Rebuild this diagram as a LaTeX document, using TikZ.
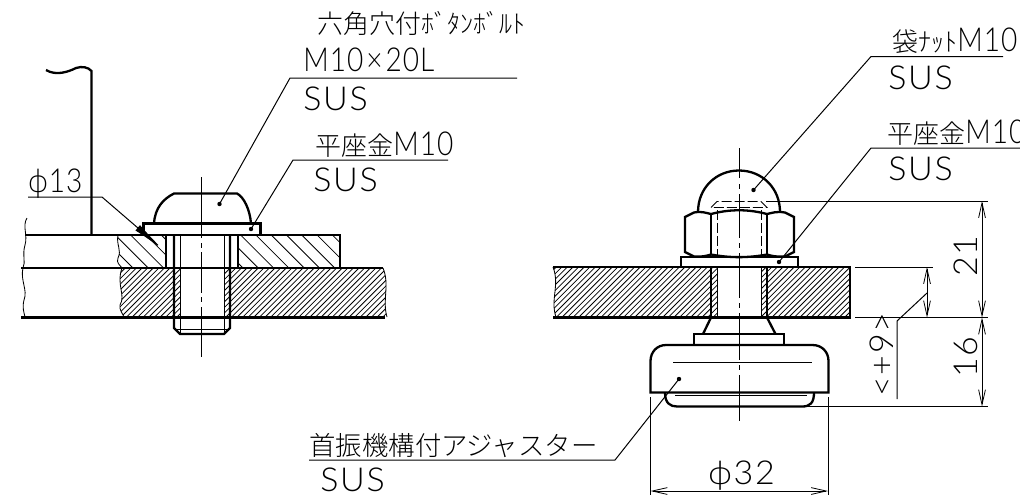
\documentclass[tikz,border=0pt]{standalone}
\usepackage{fontspec}
\usetikzlibrary{arrows.meta}
\setmainfont{Liberation Sans}
\IfFontExistsTF{Noto Sans CJK JP Light}{\newfontfamily\cjk{Noto Sans CJK JP Light}}{\newfontfamily\cjk{Noto Sans CJK JP}}
\newcommand{\pickfont}[3]{\IfFontExistsTF{Lato Light}{\newfontfamily#1[FakeStretch=#2,LetterSpace=#3]{Lato Light}}{\IfFontExistsTF{Open Sans Light}{\newfontfamily#1[FakeStretch=#2,LetterSpace=#3]{Open Sans Light}}{\newfontfamily#1[FakeStretch=#2,LetterSpace=#3]{Liberation Sans}}}}
\pickfont{\lat}{1.03}{5}
\pickfont{\latd}{0.85}{3}
\tikzset{
 x=0.5pt,y=-0.5pt,
 thk/.style={line width=1.15pt},
 thn/.style={line width=0.42pt},
 lead/.style={line width=0.5pt},
 hatchA/.style={line width=0.4pt},
 dotm/.style={fill=black,circle,inner sep=0pt,minimum size=2.2pt},
 txt/.style={inner sep=0pt,anchor=base west,font=\lat\fontsize{16.5}{16.5}\selectfont},
 dtxt/.style={inner sep=0pt,anchor=base west,font=\latd\fontsize{16.5}{16.5}\selectfont},
 jtxt/.style={inner sep=0pt,anchor=base west,font=\cjk\fontsize{13}{13}\selectfont},
 dimarrow/.style={{Straight Barb[length=7.5pt,width=3.4pt,line width=.4pt]}-{Straight Barb[length=7.5pt,width=3.4pt,line width=.4pt]}}
}
\newcommand{\mten}{{\latd\fontsize{16.5}{16.5}\selectfont M10}}
\begin{document}
\begin{tikzpicture}
\useasboundingbox (0,0) rectangle (1020,495);
% ===== left hatching
\begin{scope}
 \clip (118,235) .. controls (116,245) and (122,250) .. (118,258) .. controls (116,263) and (120,265) .. (122,268) -- (166,268) -- (166,235) -- cycle;
 \foreach \i in {-8,...,8}{\draw[hatchA] ({90+15.3*\i},225) -- ++(60,60);}
\end{scope}
\begin{scope}
 \clip (238,235) rectangle (340,268);
 \foreach \i in {-1,...,9}{\draw[hatchA] ({200+15.3*\i},225) -- ++(60,60);}
\end{scope}
\begin{scope}
 \clip (122,268) .. controls (116,285) and (126,295) .. (120,305) .. controls (119,310) and (123,314) .. (124,317) -- (180.5,317) -- (180.5,268) -- cycle;
 \foreach \i in {0,...,24}{\draw[hatchA] ({60+5.6*\i},322) -- ++(60,-60);}
\end{scope}
\begin{scope}
 \clip (224,268) -- (383,268) .. controls (390,285) and (382,300) .. (387,317) -- (224,317) -- cycle;
 \foreach \i in {0,...,45}{\draw[hatchA] ({165+5.6*\i},322) -- ++(60,-60);}
\end{scope}
% ===== right hatching
\begin{scope}
 \clip (553,267) .. controls (560,285) and (550,300) .. (556,317) -- (717,317) -- (717,267) -- cycle;
 \foreach \i in {0,...,42}{\draw[hatchA] ({490+5.6*\i},322) -- ++(60,-60);}
\end{scope}
\begin{scope}
 \clip (761,267) rectangle (850,317);
 \foreach \i in {0,...,27}{\draw[hatchA] ({700+5.6*\i},322) -- ++(60,-60);}
\end{scope}
% ===== left wall and plates
\draw[thk] (46,70) .. controls (56,76) and (68,72) .. (76,68) .. controls (82,66) and (88,67) .. (91.5,71) -- (91.5,235);
\draw[thk] (25,235) -- (340,235) -- (340,268);
\draw[thk] (21,268) -- (383,268);
\draw[thk] (21,317.5) -- (385,317.5);
\draw[thn] (27,218) .. controls (22,226) and (28,235) .. (25,245) .. controls (22,255) and (26,262) .. (23,268) .. controls (20,280) and (28,290) .. (24,300) .. controls (22,308) and (24,312) .. (25,317);
\draw[thn] (118,235) .. controls (116,245) and (122,250) .. (118,258) .. controls (116,263) and (120,265) .. (122,268) .. controls (116,285) and (126,295) .. (120,305) .. controls (119,310) and (123,314) .. (124,317);
\draw[thn] (383,268) .. controls (390,285) and (382,300) .. (387,317);
% hole
\draw[thk] (166,235) -- (166,268) (238,235) -- (238,268);
% bolt
\draw[thk] (174,235) -- (174,328) -- (180,334) -- (224,334) -- (230,328) -- (230,235);
\draw[thn] (180.5,235) -- (180.5,334) (224,235) -- (224,334) (176,329) -- (228,329);
% washer & head
\draw[thk,fill=white] (143.5,235) rectangle (260.5,223.5);
\draw[thk] (154,223.5) .. controls (155,208) and (163,199) .. (174,193.5) -- (237,193.5) .. controls (244,197) and (250,210) .. (251,223.5);
% left centre line
\draw[thn] (201.7,177) -- (201.7,238) (201.7,243) -- (201.7,248) (201.7,252) -- (201.7,293) (201.7,297) -- (201.7,302) (201.7,307) -- (201.7,357);
% phi 13 leader
\coordinate (p13a) at (28,197);
\coordinate (p13b) at (102,197);
\coordinate (p13c) at (163.5,250);
\draw[lead,-{Latex[length=17pt,width=3.5pt]}] (p13a) -- (p13b) -- (p13c);
\node[dtxt] (t13) at (28,192) {ϕ13};
% bolt labels
\node[dotm] (db) at (219.5,204) {};
\coordinate (lb1) at (290,78);
\coordinate (lb2) at (517,78);
\draw[lead] (db.center) -- (lb1) -- (lb2);
\node[jtxt] (tb1) at (317,33) {六角穴付ﾎﾞﾀﾝﾎﾞﾙﾄ};
\node[dtxt] (tb2) at (303,71) {M10\hspace{1.5pt}×\hspace{1.5pt}20L};
\node[txt] (tb3) at (303,110) {SUS};
\node[dotm] (dw) at (251,229) {};
\coordinate (lw1) at (293,160);
\coordinate (lw2) at (448,160);
\draw[lead] (dw.center) -- (lw1) -- (lw2);
\node[jtxt] (tw1) at (315,155) {平座金\mten};
\node[txt] (tw2) at (313,191) {SUS};
% ===== right plate
\draw[thk] (553,267) -- (850,267) -- (850,317.5) -- (553,317.5);
\draw[thn] (553,267) .. controls (560,285) and (550,300) .. (556,317);
\draw[thk] (711,267) -- (711,317.5) (767,267) -- (767,317.5);
\draw[thn] (717,257) -- (717,317) (761,257) -- (761,317);
\draw[thk,fill=white] (681,267) rectangle (798,257);
% nut
\draw[thk] (698,212) .. controls (698,188) and (716,170.5) .. (739,170.5) .. controls (762,170.5) and (780,188) .. (780,212);
\draw[thk,fill=white] (694,212.5) .. controls (702,211) and (706,213) .. (711,214) .. controls (730,209) and (748,209) .. (767,214) .. controls (772,213) and (776,211) .. (785,212.5) -- (794,217) -- (794,252) -- (785,256.5) .. controls (776,257) and (772,256) .. (767,254.5) .. controls (748,258) and (730,258) .. (711,254.5) .. controls (706,256) and (702,257) .. (694,256.5) -- (685,252) -- (685,217) -- cycle;
\draw[thk] (711,214) -- (711,254.5) (767,214) -- (767,254.5);
\draw[thn,dash pattern=on 5pt off 1.5pt] (717,210) -- (717,257) (761,210) -- (761,257);
\draw[thn,dash pattern=on 5pt off 1.5pt] (711,207.5) -- (717,201.5) -- (761,201.5) -- (767,207.5) -- cycle;
% right centre line
\draw[thn] (739,148) -- (739,178) (739,184) -- (739,189) (739,194) -- (739,238) (739,243) -- (739,248) (739,253) -- (739,298) (739,303) -- (739,308) (739,313) -- (739,360) (739,365) -- (739,370) (739,375) -- (739,421);
% labels
\node[dotm] (dn) at (753.5,190) {};
\coordinate (ln1) at (871,56.5);
\coordinate (ln2) at (1003,56.5);
\draw[lead] (dn.center) -- (ln1) -- (ln2);
\node[jtxt] (tn1) at (892,51) {袋ﾅｯﾄ\mten};
\node[txt] (tn2) at (888,89) {SUS};
\node[dotm] (dr) at (779,262) {};
\coordinate (lr1) at (871,148);
\coordinate (lr2) at (1020,148);
\draw[lead] (dr.center) -- (lr1) -- (lr2);
\node[jtxt] (tr1) at (887,143) {平座金\mten};
\node[txt] (tr2) at (888,180) {SUS};
% ===== adjuster
\draw[thk] (711,317.5) -- (703,334) (767,317.5) -- (775.5,334);
\draw[thk] (694,345.5) -- (694,334) -- (784,334) -- (784,345.5);
\draw[thk] (650.5,392.5) -- (650.5,361) .. controls (650.5,352) and (657,345) .. (666,345) -- (812.5,345) .. controls (822,345) and (828.5,352) .. (828.5,361) -- (828.5,392.5) -- cycle;
\draw[thn] (673,362) -- (812,362);
\draw[thk] (665,392.5) .. controls (665,403) and (670,406.5) .. (677,406.5) -- (802,406.5) .. controls (810,406.5) and (814,403) .. (814,392.5);
\draw[thn] (675,395) -- (807,395);
\node[dotm] (da) at (679,379) {};
\coordinate (la1) at (615,460);
\coordinate (la2) at (309,460);
\draw[lead] (da.center) -- (la1) -- (la2);
\node[jtxt,font=\cjk\fontsize{13.2}{13.2}\selectfont] (ta1) at (309,455) {首振機構付アジャスター};
\node[txt] (ta2) at (320,491) {SUS};
% ===== dimensions
\coordinate (e1a) at (650.5,397); \coordinate (e1b) at (650.5,495);
\coordinate (e2a) at (828,397); \coordinate (e2b) at (828,495);
\draw[lead] (e1a) -- (e1b) (e2a) -- (e2b);
\coordinate (d32a) at (650.5,491); \coordinate (d32b) at (828,491);
\draw[lead,dimarrow] (d32a) -- (d32b);
\node[txt] (t32) at (708,484) {ϕ32};
\coordinate (h1a) at (766,201); \coordinate (h1b) at (988,201);
\draw[lead] (h1a) -- (h1b);
\coordinate (h2a) at (855,267); \coordinate (h2b) at (933,267);
\draw[lead] (h2a) -- (h2b);
\coordinate (h3a) at (855,317.5); \coordinate (h3b) at (988,317.5);
\draw[lead] (h3a) -- (h3b);
\coordinate (h4a) at (808,406.5); \coordinate (h4b) at (988,406.5);
\draw[lead] (h4a) -- (h4b);
\coordinate (d21a) at (982,201); \coordinate (d21b) at (982,317.5); \coordinate (d16b) at (982,406.5);
\draw[lead,dimarrow] (d21a) -- (d21b);
\draw[lead,dimarrow] (d21b) -- (d16b);
\coordinate (d9a) at (927,267); \coordinate (d9b) at (927,317.5);
\draw[lead,dimarrow] (d9a) -- (d9b);
\coordinate (l9a) at (897,399); \coordinate (l9b) at (897,321); \coordinate (l9c) at (927,293);
\draw[lead] (l9a) -- (l9b) -- (l9c);
\node[txt,rotate=90] (t21) at (977,277) {21};
\node[txt,rotate=90] (t16) at (977,378) {16};
\node[txt,rotate=90] (t9) at (893,397) {<+9>};
\end{tikzpicture}
\end{document}
